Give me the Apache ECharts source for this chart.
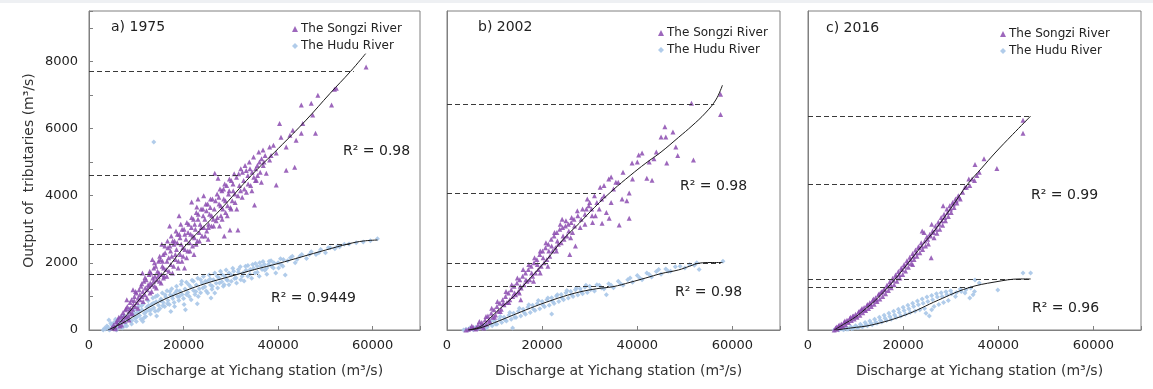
<!DOCTYPE html>
<html><head><meta charset="utf-8">
<script src="https://cdn.jsdelivr.net/npm/echarts@6/dist/echarts.min.js"></script>
<style>html,body{margin:0;padding:0;background:#fff}#c{width:1153px;height:389px}</style>
</head><body><div id="c"></div>
<script>
// ---------- data ----------
const panelTitles = ['a) 1975', 'b) 2002', 'c) 2016'];
const seriesNames = ['The Songzi River', 'The Hudu River'];
const xTickLabels = [0, 20000, 40000, 60000];
const yTickLabels = [0, 2000, 4000, 6000, 8000];
const r2Songzi = ['R² = 0.98', 'R² = 0.98', 'R² = 0.99'];
const r2Hudu = ['R² = 0.9449', 'R² = 0.98', 'R² = 0.96'];

// dashed reference levels: [level, x where it ends]
const dashA = [[7700, 56000], [4600, 31500], [2560, 55100], [1670, 35700]];
const dashB = [[6720, 56200], [4080, 32400], [1990, 57500], [1310, 34000]];
const dashC = [[6370, 46800], [4350, 33900], [1520, 46800], [1280, 34700]];

const fitSongziA = [[5000,0],[8000,450],[11200,1000],[15600,1670],[20700,2560],[27700,3570],[34300,4600],[40000,5400],[45900,6250],[51000,7050],[55300,7700],[58500,8230]];
const fitHuduA = [[4000,0],[7000,200],[10000,450],[15000,850],[20000,1150],[25000,1400],[30000,1600],[35000,1800],[40000,1980],[45000,2180],[50000,2380],[55000,2570],[58000,2650],[61000,2680]];
const fitSongziB = [[4500,0],[7000,100],[9000,350],[11000,620],[14000,1000],[17500,1550],[20900,2080],[24300,2680],[27800,3180],[31000,3650],[34900,4170],[38500,4600],[41800,4970],[45000,5300],[48700,5740],[51500,6080],[54300,6460],[56500,6850],[57900,7290]];
const fitHuduB = [[4500,0],[6900,60],[10000,220],[14000,450],[17500,650],[20900,830],[24500,1000],[27800,1130],[31500,1230],[34900,1290],[38500,1420],[41800,1550],[45000,1680],[48700,1790],[51000,1900],[53000,1990],[55500,2010],[57900,2010]];
const fitSongziC = [[5500,0],[7500,170],[10000,390],[12000,620],[14200,890],[17600,1400],[21100,2000],[24000,2520],[26700,2980],[30000,3620],[33600,4350],[36500,4820],[39300,5270],[43000,5820],[46800,6370]];
const fitHuduC = [[5850,0],[9000,60],[13400,150],[20500,450],[27400,890],[33600,1250],[39300,1430],[44700,1520],[46800,1520]];

const songziA = [[4800,60],[5200,150],[5500,90],[5800,250],[6000,200],[6300,380],[6500,120],[6800,420],[7000,300],[7200,520],[7500,260],[7700,600],[7900,380],[8100,700],[8300,420],[8500,560],[8700,820],[8900,480],[9000,900],[9200,620],[9400,760],[9600,1000],[9800,700],[10000,1100],[10200,820],[10400,950],[10600,1200],[10800,900],[11000,1300],[11200,1000],[11400,1150],[11600,1450],[11800,1050],[11900,1250],[12100,1500],[12300,1200],[12500,1350],[12700,1650],[12900,1100],[12950,1400],[13100,1700],[13300,1350],[13500,1550],[13700,1850],[13900,1300],[13950,1600],[14100,1900],[14300,1500],[14500,1750],[14700,2050],[14900,1450],[14800,1700],[15100,2100],[15300,1650],[15500,1900],[15700,2250],[15900,1600],[15800,1850],[16100,2300],[16300,1800],[16500,2050],[16700,2450],[16900,1750],[16600,2650],[17100,2500],[17300,1950],[17500,2200],[17700,2650],[17900,1900],[17400,2800],[18100,2650],[18300,2100],[18500,2400],[18700,2850],[18900,2050],[18400,2950],[19100,2850],[19300,2250],[19500,2550],[19700,3000],[19900,2200],[19400,3150],[20100,3000],[20300,2400],[20500,2700],[20700,3200],[20900,2350],[21100,3150],[21300,2600],[21500,2850],[21700,3350],[21900,2500],[21700,3810],[22100,3300],[22300,2750],[22500,3000],[22700,3500],[22900,2650],[22800,3660],[23100,3450],[23300,2900],[23500,3150],[23700,3600],[23900,2800],[24100,3600],[24300,3050],[24500,3300],[24700,3750],[24900,2950],[25100,3750],[25300,3150],[25500,3450],[25700,3900],[25900,3100],[26100,3900],[26300,3300],[26500,3600],[26600,4670],[26900,3250],[27100,4050],[27300,4520],[27500,3750],[27700,4200],[27900,3400],[27600,3100],[28100,4150],[28300,3600],[28500,3900],[28700,4350],[28900,3500],[28600,2800],[29100,4300],[29300,3700],[29500,4050],[29700,4500],[29800,2980],[29900,3650],[30100,4450],[30300,3850],[30500,4150],[30700,4650],[30900,3800],[31500,2980],[31200,4550],[31500,4000],[31800,4300],[32100,4800],[32400,3950],[32700,4450],[33000,4900],[33300,4100],[33600,4600],[33900,5000],[34200,4300],[34500,4700],[34800,5150],[35000,3720],[35200,4450],[35400,4460],[35600,4900],[35900,5300],[36200,4700],[36500,5100],[36800,5360],[37500,4670],[38200,5450],[38200,5060],[39600,5270],[39600,4320],[40300,6150],[40600,5740],[41700,5450],[41700,4760],[43100,5950],[43500,4850],[43800,5650],[44900,6700],[44900,5860],[45200,6150],[47000,6750],[47300,6400],[47900,5860],[48400,6990],[51300,6700],[51900,7170],[52300,7200],[58600,7830],[39000,5500],[38500,5200],[37000,5000],[42500,5800]];
const songziA2 = [[5600,40],[6150,310],[6900,150],[7350,410],[7850,640],[8450,300],[8750,650],[9150,500],[9550,880],[9850,1150],[10350,650],[10750,1050],[11150,1380],[11450,850],[11850,1560],[12250,950],[12650,1300],[12850,1750],[13250,1150],[13650,1450],[13850,2000],[14250,1250],[14650,1600],[14950,2200],[15250,1400],[15550,2050],[15750,1550],[16050,2500],[16450,1600],[16850,2150],[17250,2350],[17650,1700],[17950,2550],[18250,2250],[18650,2600],[18850,1850],[19250,2750],[19650,2050],[19850,2450],[20250,2850],[20650,2150],[20950,2900],[21350,2350],[21650,3050],[21950,2800],[22350,3150],[22650,2550],[23050,3300],[23350,2650],[23750,3050],[24150,3400],[24550,2800],[24850,3550],[25250,3050],[25650,3650],[25950,3400],[26350,3100],[26750,3850],[27150,3350],[27450,3950],[27850,3700],[28150,3300],[28450,4200],[28850,3850],[29250,3400],[29650,4150],[30050,3600],[30450,4350],[30850,4050],[31250,3600],[31650,4650],[32050,4150],[32450,4700],[32850,4200],[33250,4750],[33650,4350],[34050,4800],[34450,4150],[34850,4550],[35250,4800],[35650,4600],[36050,5000],[36450,4400],[36850,4900],[37250,5200],[17050,3100],[19050,3400],[15400,2550],[13400,2100],[24250,4000],[23050,3900],[20200,1850],[25200,2700],[22200,2250],[11300,1700],[9300,1200],[8000,900]];
const huduA = [[3000,0],[3500,30],[4000,80],[4200,300],[4500,20],[4800,150],[5000,60],[5300,220],[5500,100],[5800,0],[6000,250],[6200,130],[6500,350],[6800,180],[7000,60],[7200,300],[7500,420],[7700,200],[8000,120],[8200,380],[8500,500],[8700,280],[9000,180],[9200,450],[9500,600],[9700,350],[10000,250],[10200,520],[10500,700],[10700,430],[11000,320],[11200,600],[11500,780],[11700,500],[12000,400],[12200,680],[12500,870],[12700,580],[13000,480],[13200,760],[13500,950],[13700,660],[13700,5600],[14000,560],[14200,840],[14500,1030],[14700,740],[15000,640],[15200,920],[15500,1100],[15700,820],[16000,700],[16200,980],[16500,1170],[16700,880],[17000,760],[17200,1040],[17500,1230],[17700,940],[18000,820],[18200,1100],[18500,1300],[18700,1000],[19000,880],[19200,1160],[19500,1360],[19700,1060],[20000,940],[20300,1220],[20600,1420],[20900,1120],[21200,1000],[21500,1280],[21800,1480],[22100,1180],[22400,1060],[22700,1340],[23000,1540],[23300,1230],[23600,1110],[23900,1400],[24200,1590],[24500,1290],[24800,1160],[25100,1450],[25400,1640],[25700,1340],[26000,1210],[26300,1500],[26600,1700],[26900,1390],[27200,1250],[27500,1550],[27800,1750],[28100,1440],[28400,1300],[28700,1600],[29000,1790],[29300,1480],[29600,1350],[30000,1650],[30400,1840],[30800,1530],[31200,1400],[31600,1720],[32000,1880],[32400,1600],[32800,1460],[33200,1780],[33600,1920],[34000,1660],[34400,1540],[34800,1840],[35200,1980],[35600,1720],[36000,1600],[36400,1900],[36800,2040],[37200,1780],[37600,1660],[38000,1960],[38500,2060],[39000,1850],[39500,1700],[40000,2000],[40500,2120],[41000,1900],[41500,1640],[42000,2060],[43000,2200],[44000,2100],[45000,2250],[46000,2130],[47000,2330],[48000,2250],[49000,2400],[50000,2300],[51000,2450],[52000,2420],[53000,2480],[55000,2560],[56500,2600],[58000,2620],[59500,2660],[61000,2720]];
const huduA2 = [[3300,50],[3800,120],[4300,0],[4600,200],[5100,140],[5600,320],[6100,60],[6600,260],[7100,420],[7600,120],[8100,300],[8600,620],[9100,280],[9600,500],[10100,380],[10600,550],[11100,720],[11600,360],[12100,550],[12600,730],[13100,600],[13600,800],[14100,1000],[14600,580],[15100,880],[15600,720],[16100,1050],[16600,780],[17100,1150],[17600,1020],[18100,700],[18600,1180],[19100,1000],[19600,1450],[20100,760],[20600,1060],[21100,1350],[21600,900],[22100,1450],[22600,1150],[23100,1000],[23600,1500],[24100,1250],[24600,1450],[25100,1100],[25600,1520],[26100,1300],[26600,1100],[27100,1600],[27600,1400],[28100,1650],[28600,1350],[29100,1500],[29600,1700],[30100,1450],[30600,1750],[31100,1550],[31600,1800],[32100,1500],[32600,1700],[33100,1900],[33600,1600],[34100,1800],[34600,1950],[35100,1700],[35600,1900],[36100,2000],[36600,1800],[37100,1950],[37600,1850],[38100,2050],[38600,1900],[39100,2000],[40100,1850],[40600,1950],[41100,2100],[42600,2150],[43600,2000],[44600,2200],[46600,2250],[48600,2300],[50600,2450],[52600,2500],[54000,2550],[20400,600],[17300,550],[14300,420],[11400,250],[22900,780],[25800,950]];
const songziB = [[4000,0],[4500,20],[5000,50],[5500,80],[6000,30],[6500,150],[7000,100],[7300,220],[7700,60],[8000,300],[8300,180],[8600,420],[9000,250],[9300,500],[9600,380],[9900,600],[10200,450],[10500,700],[10800,560],[11100,800],[11400,620],[11700,900],[12000,750],[12300,1000],[12600,820],[12900,1100],[13200,900],[13500,1200],[13800,1000],[14100,1300],[14400,1050],[14700,1400],[15000,1150],[15300,1500],[15600,1250],[15900,1600],[15500,900],[16200,1350],[16500,1700],[16800,1450],[17100,1800],[17400,1500],[17700,1900],[18000,1600],[18300,2000],[18600,1700],[18900,2100],[19200,1800],[19500,2250],[19800,1900],[20100,2350],[20400,2000],[20700,2450],[21000,2100],[21300,2550],[21600,2200],[21900,2700],[22200,2350],[22500,2800],[22800,2450],[23100,2900],[23400,2550],[23700,3000],[24000,2600],[24300,3050],[24600,2700],[24900,3100],[25200,2800],[25500,3150],[25800,2250],[26100,3200],[26400,2900],[26700,3300],[27000,2500],[27500,3400],[28000,3050],[28500,3600],[29000,3150],[29300,3600],[30000,3800],[30600,3200],[31000,4000],[32000,3600],[32500,3900],[33000,4300],[33500,3500],[34000,4500],[34500,3800],[35000,4200],[36000,4400],[37000,4700],[39000,4500],[40000,5000],[32600,3180],[34100,3330],[36200,3130],[38300,3330],[34500,4560],[38300,4080],[37800,3850],[36800,3900],[38900,4970],[40300,5210],[41000,5270],[42000,4520],[43100,4460],[45000,5750],[46000,5750],[46200,4970],[48100,5450],[47500,5900],[45800,6050],[44000,5300],[51400,6750],[51800,5060],[57500,7020],[57500,6420],[33000,4000],[31500,3800],[30500,3400],[29500,3900],[35500,4400],[42500,5000],[43500,5100],[48500,5200]];
const songziB2 = [[5200,120],[6200,60],[6800,250],[7600,150],[8200,400],[8800,300],[9400,650],[10000,380],[10600,850],[11200,550],[11800,780],[12400,1150],[13000,820],[13600,1350],[14200,1100],[14800,1550],[15400,1300],[16000,1800],[16600,1500],[17200,1950],[17800,1700],[18400,2150],[19000,1950],[19600,2350],[20200,2150],[20800,2600],[21400,2350],[22000,2500],[22600,2900],[23200,2650],[23800,3150],[24400,2800],[25000,3250],[25600,2950],[26200,3350],[26800,3100],[27400,3550],[28200,3300],[29000,3450],[29800,3700],[30400,3600],[31200,3400],[32200,4250],[21200,1900],[18200,1450],[15200,1100],[24200,3300],[26000,2750],[23000,2350],[19600,1700]];
const huduB = [[3500,0],[4000,20],[4500,0],[5000,40],[5500,10],[6000,80],[6500,30],[7000,100],[7500,50],[8000,150],[8500,90],[9000,200],[9500,130],[10000,260],[10500,170],[11000,320],[11500,220],[12000,380],[12500,270],[13000,440],[13500,320],[13800,60],[14000,500],[14500,370],[15000,560],[15500,420],[16000,620],[16500,470],[17000,680],[17500,520],[18000,740],[18500,580],[19000,790],[19500,630],[20000,850],[20500,690],[21000,900],[21500,740],[22000,960],[22500,790],[22000,480],[23000,1010],[23500,850],[24000,1060],[24500,900],[25000,1110],[25500,950],[26000,1150],[26500,1000],[27000,1200],[27500,1040],[28000,1230],[28500,1080],[29000,1270],[29500,1120],[30000,1300],[31000,1160],[32000,1330],[33000,1220],[33500,1050],[34000,1380],[35000,1260],[36000,1450],[37000,1330],[38000,1500],[39000,1420],[40000,1620],[41000,1500],[42000,1700],[43000,1580],[44000,1740],[45000,1660],[46000,1820],[47000,1750],[48000,1880],[50000,1850],[52000,1930],[53000,1800],[58000,2050]];
const huduB2 = [[4800,60],[6200,50],[7200,130],[8200,60],[9200,270],[10200,180],[11200,400],[12200,300],[13200,520],[14200,380],[15200,650],[16200,520],[17200,750],[18200,620],[19200,880],[20200,740],[21200,950],[22200,850],[23200,1050],[24200,950],[25200,1180],[26200,1050],[27200,1250],[28200,1150],[29200,1330],[30200,1200],[31500,1350],[32500,1250],[34500,1330],[36500,1380],[38500,1550],[40500,1550],[42500,1650],[44500,1800],[46500,1750],[49000,1900],[51000,1950],[52500,2000]];
const songziC = [[5500,0],[5800,60],[6100,20],[6400,120],[6700,80],[7000,180],[7300,110],[7600,230],[7900,160],[8200,290],[8500,220],[8800,350],[9100,280],[9400,410],[9700,330],[10000,470],[10300,380],[10600,530],[10900,440],[11200,600],[11500,510],[11800,670],[12100,580],[12400,740],[12700,640],[13000,810],[13300,700],[13600,880],[13900,770],[14200,960],[14500,850],[14800,1050],[15100,920],[15400,1130],[15700,1000],[16000,1220],[16300,1080],[16600,1330],[16900,1180],[17200,1440],[17500,1260],[17800,1540],[18100,1350],[18400,1640],[18700,1450],[19000,1740],[19300,1550],[19600,1850],[19900,1650],[20200,1950],[20500,1760],[20800,2060],[21100,1870],[21400,2170],[21700,1980],[22000,2280],[22300,2100],[22600,2380],[22900,2200],[23200,2480],[23500,2300],[23800,2600],[24100,2400],[24400,2900],[24700,2500],[25000,2780],[25300,2560],[25600,2850],[25900,2150],[26200,2950],[26500,2750],[26800,3100],[27100,2880],[27400,3220],[27700,3000],[28000,3350],[28300,3120],[28600,3450],[28900,3250],[29200,3600],[29500,3380],[29800,3700],[30100,3500],[30400,3800],[30700,3650],[31000,3900],[31300,3780],[31600,4000],[32000,3900],[33000,4250],[34000,4300],[34500,4500],[35000,4450],[35500,4600],[33800,4500],[35100,4930],[39700,4810],[45200,6250],[45200,5860],[37000,5100],[36000,4700]];
const songziC2 = [[6000,90],[6550,150],[7150,140],[7750,270],[8350,260],[8950,380],[9550,420],[10150,420],[10750,560],[11350,640],[11950,600],[12550,760],[13150,780],[13750,920],[14350,900],[14950,1080],[15550,1140],[16150,1200],[16750,1300],[17350,1360],[17950,1480],[18550,1600],[19150,1650],[19750,1800],[20350,1900],[20950,2000],[21550,2100],[22150,2200],[22750,2300],[23350,2450],[23950,2500],[24550,2650],[25150,2700],[25750,2800],[26350,2900],[26950,3000],[27550,3150],[28150,3250],[28750,3350],[29350,3500],[29950,3600],[30550,3750],[31150,3850],[31750,3950],[32500,4100],[33300,4250],[28400,3700],[26000,3150],[24000,2950],[22000,1950]];
const huduC = [[5500,0],[6000,20],[6500,0],[7000,40],[7500,10],[8000,70],[8500,30],[9000,100],[9500,50],[10000,130],[10500,70],[11000,170],[11500,100],[12000,220],[12500,130],[13000,270],[13500,160],[14000,320],[14500,200],[15000,380],[15500,240],[16000,440],[16500,280],[17000,500],[17500,320],[18000,560],[18500,370],[19000,620],[19500,420],[20000,680],[20500,470],[21000,740],[21500,520],[22000,800],[22500,560],[23000,860],[23500,600],[24000,920],[24500,640],[25000,980],[25500,420],[26000,1030],[26500,700],[27000,1080],[27500,760],[28000,1110],[28500,820],[29000,1140],[29500,880],[30000,1170],[31000,1000],[32000,1220],[33000,1100],[34000,950],[34700,1050],[35100,1490],[36000,1400],[39900,1190],[45200,1700],[46800,1700]];
const huduC2 = [[6200,40],[7200,30],[8200,20],[9200,40],[10200,90],[11200,110],[12200,150],[13200,200],[14200,230],[15200,290],[16200,350],[17200,400],[18200,450],[19200,520],[20200,580],[21200,630],[22200,700],[23200,750],[24200,800],[25200,850],[26200,900],[27200,980],[28200,1000],[29200,1050],[30200,1080],[31200,1120],[32200,1150],[33200,1200],[34200,1250],[35000,1150],[24800,500],[26000,600]];

// ---------- chart ----------
const FONT = 'DejaVu Sans';
const PURPLE = '#8c4cb0', BLUE = '#a8c6e8';
const grids = [
  {left: 89, top: 11, width: 331, height: 319},
  {left: 447, top: 11, width: 333, height: 319},
  {left: 808, top: 11, width: 333, height: 319}
];
const panels = [
  {songzi: songziA.concat(songziA2), hudu: huduA.concat(huduA2), fs: fitSongziA, fh: fitHuduA, dash: dashA},
  {songzi: songziB.concat(songziB2), hudu: huduB.concat(huduB2), fs: fitSongziB, fh: fitHuduB, dash: dashB},
  {songzi: songziC.concat(songziC2), hudu: huduC.concat(huduC2), fs: fitSongziC, fh: fitHuduC, dash: dashC}
];
const chart = echarts.init(document.getElementById('c'), null, {renderer: 'canvas'});
const xAxis = [], yAxis = [], series = [], legend = [], graphic = [];
const legendPos = [[287, 18], [653, 22], [995, 23]];
const titlePos = [[111, 29], [478, 29], [826, 30]];
const r2Pos = [[343, 153, 271, 300], [680, 188, 675, 294], [1031, 197, 1032, 310]];
const TXT = '14px "DejaVu Sans"';
panels.forEach((p, i) => {
  xAxis.push({
    gridIndex: i, type: 'value', min: 0, max: 70000, interval: 20000,
    name: 'Discharge at Yichang station (m³/s)', nameLocation: 'middle', nameGap: 34,
    nameTextStyle: {fontFamily: FONT, fontSize: 14, color: '#333', padding: [0, 0, 0, 10]},
    axisLine: {show: true, lineStyle: {color: '#808080'}},
    axisTick: {show: true, inside: true, length: 4, lineStyle: {color: '#808080'}},
    splitLine: {show: false},
    axisLabel: {fontFamily: FONT, fontSize: 13, color: '#222', margin: 9,
      formatter: v => xTickLabels.includes(v) ? String(v) : ''}
  });
  yAxis.push({
    gridIndex: i, type: 'value', min: 0, max: 9500, interval: 1000,
    name: i === 0 ? 'Output of  tributaries (m³/s)' : '', nameLocation: 'middle', nameGap: 53,
    nameTextStyle: {fontFamily: FONT, fontSize: 14, color: '#333'},
    axisLine: {show: true, lineStyle: {color: '#808080'}},
    axisTick: {show: i === 0, inside: true, length: 4, lineStyle: {color: '#808080'}},
    splitLine: {show: false},
    axisLabel: {show: i === 0, fontFamily: FONT, fontSize: 13, color: '#222', margin: 11,
      formatter: v => yTickLabels.includes(v) ? String(v) : ''}
  });
  series.push({
    name: seriesNames[0], type: 'scatter', xAxisIndex: i, yAxisIndex: i,
    symbol: 'triangle', symbolSize: 5, data: p.songzi, z: 3,
    itemStyle: {color: PURPLE, opacity: 0.85}
  });
  series.push({
    name: seriesNames[1], type: 'scatter', xAxisIndex: i, yAxisIndex: i,
    symbol: 'diamond', symbolSize: 5, data: p.hudu, z: 2,
    itemStyle: {color: BLUE, opacity: 0.9}
  });
  [p.fs, p.fh].forEach(f => series.push({
    type: 'line', xAxisIndex: i, yAxisIndex: i, data: f, smooth: 0.4,
    symbol: 'none', z: 5, lineStyle: {color: '#1a1a1a', width: 1}, silent: true
  }));
  series.push({
    type: 'line', xAxisIndex: i, yAxisIndex: i, data: [], z: 6, silent: true,
    markLine: {symbol: 'none', silent: true, label: {show: false},
      lineStyle: {color: '#3a3a3a', type: [5, 3], width: 1.2},
      data: p.dash.map(d => [{coord: [0, d[0]]}, {coord: [d[1], d[0]]}])}
  });
  legend.push({
    orient: 'vertical', left: legendPos[i][0], top: legendPos[i][1],
    data: seriesNames, itemWidth: 6, itemHeight: 6, itemGap: 5,
    textStyle: {fontFamily: FONT, fontSize: 12, color: '#222', padding: [0, 0, 0, -2]}
  });
  graphic.push({type: 'text', left: titlePos[i][0], top: titlePos[i][1] - 9,
    style: {text: panelTitles[i], font: TXT, fill: '#222'}});
  graphic.push({type: 'text', left: r2Pos[i][0], top: r2Pos[i][1] - 9,
    style: {text: r2Songzi[i], font: TXT, fill: '#222'}});
  graphic.push({type: 'text', left: r2Pos[i][2], top: r2Pos[i][3] - 9,
    style: {text: r2Hudu[i], font: TXT, fill: '#222'}});
});
graphic.push({type: 'rect', left: 0, top: 0, shape: {width: 1153, height: 3}, style: {fill: '#eef0f3'}, z: -1});
chart.setOption({
  animation: false, backgroundColor: '#fff',
  grid: grids.map(g => Object.assign({show: true, borderColor: '#808080', borderWidth: 1, backgroundColor: 'transparent'}, g)),
  xAxis, yAxis, series, legend, graphic
});
</script></body></html>
